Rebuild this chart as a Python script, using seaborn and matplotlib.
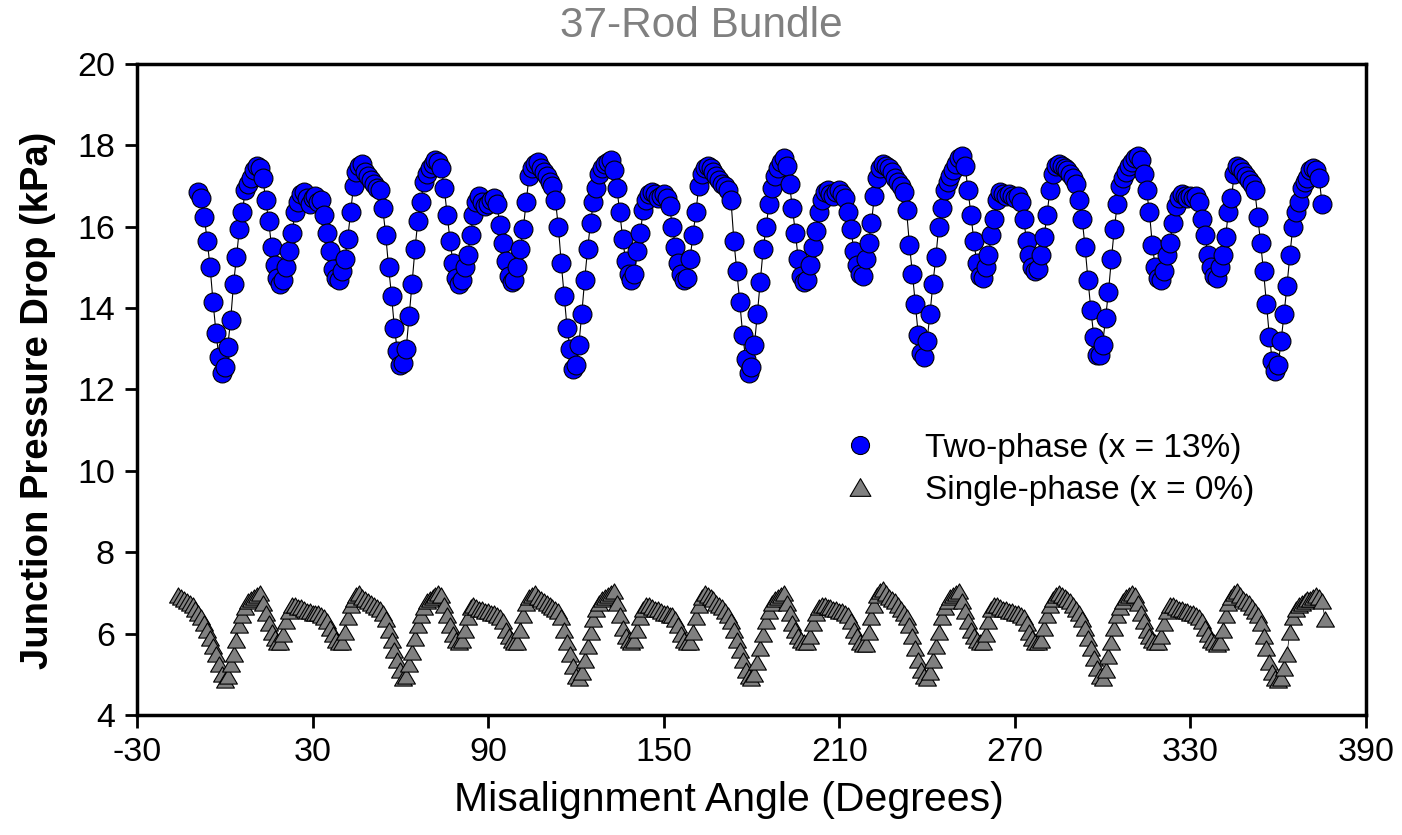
import matplotlib
matplotlib.use("Agg")
import matplotlib.pyplot as plt
from matplotlib.lines import Line2D
from matplotlib.path import Path
import numpy as np
import pandas as pd
import seaborn as sns

sns.set_style("ticks")
plt.rcParams["font.family"] = ["Liberation Sans", "DejaVu Sans"]
plt.rcParams["axes.unicode_minus"] = False
plt.rcParams["text.color"] = "black"
plt.rcParams["axes.labelcolor"] = "black"

# two-phase (x = 13%), one reading per degree starting at -9 deg
two_phase_start = -9
two_phase_kpa = [
    16.85, 16.7, 16.25, 15.65, 15.0, 14.15, 13.4, 12.8, 12.4, 12.55,   # -9..0
    13.05, 13.7, 14.6, 15.25, 15.95, 16.35, 16.9, 17.05, 17.2, 17.4,   # 1..10
    17.5, 17.45, 17.2, 16.65, 16.15, 15.5, 15.05, 14.75, 14.6, 14.7,
    15.0, 15.4, 15.85, 16.35, 16.6, 16.8, 16.85, 16.7, 16.55, 16.7,
    16.75, 16.6, 16.65, 16.3, 15.85, 15.4, 14.95, 14.75, 14.7, 14.9,
    15.2, 15.7, 16.35, 17.0, 17.35, 17.5, 17.55, 17.35, 17.25, 17.15,
    17.05, 16.95, 16.9, 16.45, 15.8, 15.0, 14.3, 13.5, 12.95, 12.6,    # 51..60
    12.65, 13.0, 13.8, 14.6, 15.45, 16.15, 16.6, 17.1, 17.3, 17.45,
    17.55, 17.65, 17.6, 17.45, 16.95, 16.3, 15.65, 15.1, 14.75, 14.6,
    14.7, 15.0, 15.3, 15.8, 16.3, 16.6, 16.75, 16.6, 16.5, 16.55,
    16.65, 16.7, 16.55, 16.05, 15.6, 15.15, 14.8, 14.65, 14.7, 15.0,
    15.45, 15.95, 16.6, 17.25, 17.45, 17.55, 17.6, 17.45, 17.35, 17.25,
    17.1, 17.0, 16.65, 16.0, 15.1, 14.3, 13.5, 13.0, 12.5, 12.6,       # 111..120
    13.1, 13.85, 14.7, 15.45, 16.1, 16.6, 16.95, 17.3, 17.45, 17.55,
    17.6, 17.65, 17.4, 16.95, 16.35, 15.7, 15.15, 14.85, 14.7, 14.85,
    15.4, 15.85, 16.4, 16.65, 16.8, 16.85, 16.8, 16.7, 16.75, 16.8,
    16.7, 16.5, 16.0, 15.5, 15.1, 14.85, 14.7, 14.75, 15.2, 15.8,
    16.35, 17.0, 17.3, 17.45, 17.5, 17.45, 17.35, 17.25, 17.15, 17.05,
    17.0, 16.9, 16.65, 15.65, 14.9, 14.15, 13.35, 12.75, 12.4, 12.55,  # 171..180
    13.1, 13.85, 14.65, 15.45, 16.0, 16.55, 16.95, 17.25, 17.45, 17.6,
    17.7, 17.5, 17.05, 16.45, 15.85, 15.2, 14.8, 14.65, 14.7, 15.05,
    15.5, 15.9, 16.35, 16.65, 16.85, 16.9, 16.8, 16.75, 16.85, 16.9,
    16.8, 16.7, 16.35, 15.95, 15.4, 15.05, 14.85, 14.8, 15.2, 15.6,
    16.1, 16.75, 17.2, 17.45, 17.55, 17.5, 17.45, 17.35, 17.2, 17.1,
    17.0, 16.85, 16.4, 15.55, 14.85, 14.1, 13.35, 12.9, 12.8, 13.2,    # 231..240
    13.85, 14.6, 15.25, 16.0, 16.45, 16.9, 17.1, 17.25, 17.4, 17.55,
    17.7, 17.75, 17.5, 16.9, 16.3, 15.65, 15.1, 14.8, 14.75, 15.0,
    15.3, 15.8, 16.2, 16.65, 16.85, 16.8, 16.75, 16.8, 16.75, 16.7,
    16.75, 16.6, 16.2, 15.65, 15.3, 15.0, 14.9, 14.95, 15.3, 15.75,
    16.3, 16.9, 17.3, 17.5, 17.55, 17.5, 17.45, 17.4, 17.3, 17.2,
    17.05, 16.65, 16.2, 15.5, 14.7, 13.95, 13.3, 12.85, 12.85, 13.1,   # 291..300
    13.75, 14.4, 15.2, 15.95, 16.55, 17.0, 17.2, 17.35, 17.5, 17.6,
    17.7, 17.75, 17.65, 17.3, 16.9, 16.35, 15.55, 15.0, 14.75, 14.7,
    14.9, 15.3, 15.6, 16.1, 16.5, 16.7, 16.8, 16.75, 16.7, 16.75,
    16.7, 16.75, 16.6, 16.2, 15.8, 15.3, 15.0, 14.8, 14.75, 15.0,
    15.3, 15.75, 16.35, 16.7, 17.3, 17.5, 17.45, 17.35, 17.25, 17.15,
    17.05, 16.9, 16.25, 15.6, 14.9, 14.1, 13.3, 12.7, 12.45, 12.6,     # 351..360
    13.2, 13.85, 14.55, 15.3, 16.0, 16.35, 16.6, 16.95, 17.1, 17.2,
    17.4, 17.45, 17.4, 17.2, 16.55,                                    # 371..375
]

# single-phase (x = 0%), one reading per degree starting at -16 deg
single_phase_start = -16
single_phase_kpa = [
    6.95, 6.9, 6.85, 6.8, 6.75, 6.7, 6.6, 6.5, 6.4, 6.25,    # -16..-7
    6.1, 5.9, 5.7, 5.5, 5.25, 5.0, 4.85, 4.95, 5.25, 5.5,    # -6..3
    5.85, 6.2, 6.45, 6.65, 6.8, 6.85, 6.9, 6.95, 7.0, 6.75,
    6.5, 6.25, 6.05, 5.9, 5.8, 5.8, 6.0, 6.3, 6.55, 6.7,
    6.7, 6.65, 6.65, 6.6, 6.55, 6.55, 6.5, 6.5, 6.5, 6.45,
    6.4, 6.3, 6.15, 6.0, 5.85, 5.8, 5.8, 6.05, 6.4, 6.7,
    6.85, 6.95, 7.0, 6.9, 6.85, 6.8, 6.75, 6.7, 6.65, 6.6,   # 44..53
    6.5, 6.35, 6.1, 5.85, 5.6, 5.35, 5.1, 4.9, 4.95, 5.25,
    5.55, 5.9, 6.2, 6.45, 6.65, 6.8, 6.85, 6.9, 6.95, 7.0,
    6.95, 6.7, 6.45, 6.2, 6.0, 5.85, 5.8, 5.85, 6.1, 6.4,
    6.65, 6.7, 6.65, 6.6, 6.6, 6.55, 6.55, 6.5, 6.5, 6.45,
    6.4, 6.3, 6.1, 5.95, 5.85, 5.8, 5.8, 6.1, 6.45, 6.75,
    6.9, 6.95, 7.0, 6.9, 6.85, 6.8, 6.75, 6.7, 6.65, 6.6,    # 104..113
    6.55, 6.4, 6.1, 5.8, 5.5, 5.2, 4.95, 4.9, 5.05, 5.35,
    5.7, 6.05, 6.35, 6.6, 6.75, 6.85, 6.9, 6.95, 7.0, 7.05,
    6.75, 6.45, 6.15, 5.95, 5.85, 5.8, 5.85, 6.1, 6.4, 6.6,
    6.7, 6.7, 6.65, 6.6, 6.6, 6.55, 6.5, 6.5, 6.45, 6.45,
    6.35, 6.2, 6.0, 5.85, 5.8, 5.8, 6.05, 6.4, 6.7, 6.9,
    7.0, 6.95, 6.9, 6.85, 6.75, 6.7, 6.65, 6.55, 6.45, 6.3,  # 164..173
    6.1, 5.85, 5.6, 5.35, 5.1, 4.95, 4.9, 5.0, 5.3, 5.65,
    6.0, 6.3, 6.55, 6.75, 6.85, 6.9, 6.95, 7.0, 6.75, 6.5,
    6.25, 6.1, 5.95, 5.85, 5.8, 5.8, 5.95, 6.25, 6.5, 6.65,
    6.7, 6.7, 6.65, 6.65, 6.6, 6.6, 6.55, 6.55, 6.5, 6.45,
    6.3, 6.1, 5.95, 5.8, 5.75, 5.75, 6.05, 6.4, 6.7, 6.95,
    7.05, 7.1, 7.0, 6.9, 6.85, 6.8, 6.7, 6.6, 6.5, 6.4,      # 224..233
    6.2, 5.95, 5.65, 5.35, 5.1, 4.95, 4.9, 5.05, 5.35, 5.7,
    6.05, 6.4, 6.65, 6.8, 6.9, 6.95, 7.0, 7.05, 6.8, 6.55,
    6.3, 6.1, 5.95, 5.85, 5.8, 5.8, 6.0, 6.3, 6.6, 6.7,
    6.7, 6.65, 6.6, 6.6, 6.55, 6.55, 6.5, 6.5, 6.45, 6.4,
    6.25, 6.05, 5.9, 5.8, 5.8, 5.85, 6.15, 6.45, 6.7, 6.85,
    6.95, 7.0, 6.95, 6.9, 6.85, 6.8, 6.7, 6.6, 6.5, 6.35,    # 284..293
    6.15, 5.9, 5.65, 5.4, 5.15, 4.95, 4.9, 5.1, 5.45, 5.8,
    6.15, 6.45, 6.65, 6.8, 6.9, 6.95, 7.0, 6.95, 6.75, 6.5,
    6.3, 6.1, 5.95, 5.85, 5.8, 5.8, 5.95, 6.25, 6.55, 6.7,
    6.7, 6.65, 6.6, 6.6, 6.55, 6.55, 6.5, 6.5, 6.45, 6.4,
    6.3, 6.15, 6.0, 5.85, 5.8, 5.75, 5.8, 6.1, 6.45, 6.75,
    6.9, 7.0, 7.05, 6.95, 6.85, 6.8, 6.75, 6.65, 6.55, 6.45, # 344..353
    6.25, 5.95, 5.65, 5.3, 5.05, 4.9, 4.85, 4.9, 5.15, 5.5,
    6.05, 6.4, 6.6, 6.7, 6.75, 6.8, 6.85, 6.85, 6.9, 6.95,
    6.9, 6.8, 6.35,                                          # 374..376
]

x_ticks = [-30, 30, 90, 150, 210, 270, 330, 390]
y_ticks = [4, 6, 8, 10, 12, 14, 16, 18, 20]

two_label = "Two-phase (x = 13%)"
single_label = "Single-phase (x = 0%)"

df_two = pd.DataFrame({
    "angle": np.arange(len(two_phase_kpa)) + two_phase_start,
    "dp": two_phase_kpa,
})
df_single = pd.DataFrame({
    "angle": np.arange(len(single_phase_kpa)) + single_phase_start,
    "dp": single_phase_kpa,
})

# flat triangle like the original plotting package draws
tri = Path([(-1.0, -0.85), (1.0, -0.85), (0.0, 0.85), (-1.0, -0.85)],
           [Path.MOVETO, Path.LINETO, Path.LINETO, Path.CLOSEPOLY])

fig, ax = plt.subplots(figsize=(14.02, 8.35), dpi=100)
fig.subplots_adjust(left=0.0977, right=0.9743, bottom=0.1437, top=0.9234)

sns.lineplot(data=df_single, x="angle", y="dp", color="black", lw=0.5,
             sort=False, estimator=None, ax=ax, zorder=1)
sns.scatterplot(data=df_single, x="angle", y="dp", marker=tri, s=165,
                color="#808080", edgecolor="black", linewidth=0.8, ax=ax, zorder=2)
sns.lineplot(data=df_two, x="angle", y="dp", color="black", lw=0.8,
             sort=False, estimator=None, ax=ax, zorder=3)
sns.scatterplot(data=df_two, x="angle", y="dp", marker="o", s=185,
                color="#0000ff", edgecolor="black", linewidth=0.8, ax=ax, zorder=4)

ax.set_xlim(-30, 390)
ax.set_ylim(4, 20)
ax.set_xticks(x_ticks)
ax.set_yticks(y_ticks)
ax.tick_params(axis="both", direction="out", length=9, width=2, labelsize=24.5,
               colors="black", pad=7)
for side in ["left", "bottom", "top", "right"]:
    ax.spines[side].set_visible(True)
    ax.spines[side].set_linewidth(2.5)
    ax.spines[side].set_color("black")

ax.set_xlabel("Misalignment Angle (Degrees)", fontsize=29.5, color="black")
ax.xaxis.set_label_coords((729 - 137) / 1229, -(800 - 715) / 651)
ax.set_ylabel("Junction Pressure Drop (kPa)", fontsize=27.5, fontweight="bold",
              color="black")
ax.yaxis.set_label_coords(-(137 - 38) / 1229, (715 - 400) / 651)
ax.xaxis.label.set_verticalalignment("center")
ax.yaxis.label.set_verticalalignment("center")
fig.text(701 / 1402, 1 - 26 / 835, "37-Rod Bundle", fontsize=30.5,
         color="#808080", ha="center", va="center")

handles = [
    Line2D([], [], ls="none", marker="o", markersize=13, markerfacecolor="#0000ff",
           markeredgecolor="black", markeredgewidth=0.8),
    Line2D([], [], ls="none", marker=tri, markersize=15, markerfacecolor="#808080",
           markeredgecolor="black", markeredgewidth=0.8),
]
leg = ax.legend(handles, [two_label, single_label], loc="center left",
                bbox_to_anchor=(0.5745, 0.377), frameon=False, fontsize=24,
                handlelength=1.0, handletextpad=1.47, labelspacing=0.33,
                borderpad=0, borderaxespad=0)
for t in leg.get_texts():
    t.set_color("black")

plt.savefig("out.png", dpi=100)
plt.close()
